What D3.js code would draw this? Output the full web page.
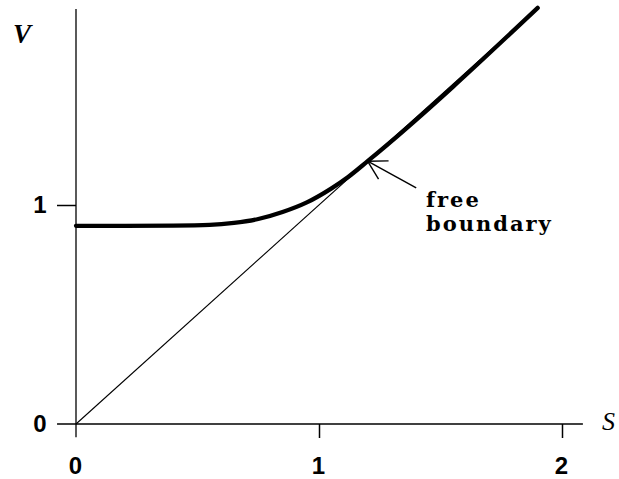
<!DOCTYPE html>
<html>
<head>
<meta charset="utf-8">
<script src="https://cdn.jsdelivr.net/npm/d3@7"></script>
<style>
  html, body { margin: 0; padding: 0; background: #fff; }
  svg { display: block; }
</style>
</head>
<body>
<svg id="chart" width="619" height="479"></svg>
<script>
// Option value V against asset price S
const xTicks = [0, 1, 2];
const yTicks = [0, 1];
const xTickLabels = ["0", "1", "2"];
const yTickLabels = ["0", "1"];

// payoff line V = S
const payoffS = [0, 1.9];
const payoffV = [0, 1.9];

// option value curve, meeting the payoff at the free boundary
const curveS = [0, 0.2, 0.4, 0.55, 0.65, 0.75, 0.85, 0.95, 1.05, 1.12, 1.2, 1.9];
const curveV = [0.905, 0.905, 0.906, 0.909, 0.918, 0.936, 0.968, 1.012, 1.075, 1.128, 1.2, 1.9];

// free boundary annotation: arrow tail and tip (data units)
const freeBoundaryS = 1.2;
const freeBoundaryV = 1.2;
const arrowTailS = 1.4;
const arrowTailV = 1.078;
const annotationLines = ["free", "boundary"];

const svg = d3.select("#chart");
const x = d3.scaleLinear().domain([0, 2]).range([76, 562]);
const y = d3.scaleLinear().domain([0, 1]).range([424, 205]);

// axis lines extend a little beyond the plotted range
svg.append("line")
  .attr("x1", x(-0.078)).attr("x2", x(2.086))
  .attr("y1", y(0)).attr("y2", y(0))
  .attr("stroke", "#000").attr("stroke-width", 1.6);
svg.append("line")
  .attr("x1", x(0)).attr("x2", x(0))
  .attr("y1", y(-0.06)).attr("y2", y(1.895))
  .attr("stroke", "#000").attr("stroke-width", 1.3);

// x axis ticks and labels
const xAxis = d3.axisBottom(x)
  .tickValues(xTicks)
  .tickSize(14)
  .tickPadding(19)
  .tickFormat((d, i) => xTickLabels[i]);
const gx = svg.append("g").attr("transform", `translate(0,${y(0)})`).call(xAxis);
gx.select(".domain").remove();
gx.selectAll(".tick line").attr("stroke", "#000").attr("stroke-width", 1.5)
  .attr("display", d => d === 0 ? "none" : null);
gx.selectAll(".tick text")
  .attr("fill", "#000")
  .attr("dx", "-1")
  .style("font-family", "'Liberation Sans', Arial, sans-serif")
  .style("font-weight", "bold")
  .style("font-size", "24px");

// y axis ticks and labels
const yAxis = d3.axisLeft(y)
  .tickValues(yTicks)
  .tickSize(19)
  .tickPadding(26)
  .tickFormat((d, i) => yTickLabels[i]);
const gy = svg.append("g").attr("transform", `translate(${x(0)},0)`).call(yAxis);
gy.select(".domain").remove();
gy.selectAll(".tick line").attr("stroke", "#000").attr("stroke-width", 1.5)
  .attr("display", d => d === 0 ? "none" : null);
gy.selectAll(".tick text")
  .attr("fill", "#000")
  .attr("text-anchor", "middle")
  .attr("dx", "9")
  .style("font-family", "'Liberation Sans', Arial, sans-serif")
  .style("font-weight", "bold")
  .style("font-size", "24px");

// axis titles
svg.append("text").attr("x", 13).attr("y", 43).text("V")
  .style("font-family", "'Liberation Serif', 'DejaVu Serif', serif")
  .style("font-style", "italic").style("font-weight", "bold")
  .style("font-size", "27px");
svg.append("text").attr("x", 602).attr("y", 430).text("S")
  .style("font-family", "'Liberation Serif', 'DejaVu Serif', serif")
  .style("font-style", "italic")
  .style("font-size", "26px");

// payoff line
const line = d3.line().x(d => x(d[0])).y(d => y(d[1]));
svg.append("path")
  .datum(payoffS.map((s, i) => [s, payoffV[i]]))
  .attr("d", line)
  .attr("fill", "none").attr("stroke", "#000").attr("stroke-width", 1.1);

// option value curve
svg.append("path")
  .datum(curveS.map((s, i) => [s, curveV[i]]))
  .attr("d", line.curve(d3.curveMonotoneX))
  .attr("fill", "none").attr("stroke", "#000")
  .attr("stroke-width", 4.3).attr("stroke-linecap", "round");

// annotation arrow with an open head
const tipX = x(freeBoundaryS), tipY = y(freeBoundaryV);
const tailX = x(arrowTailS), tailY = y(arrowTailV);
svg.append("line")
  .attr("x1", tailX).attr("y1", tailY).attr("x2", tipX).attr("y2", tipY)
  .attr("stroke", "#000").attr("stroke-width", 1.4);
const ang = Math.atan2(tailY - tipY, tailX - tipX);
const barbLen = 21, spread = 0.52;
[ang - spread, ang + spread].forEach(a => {
  svg.append("line")
    .attr("x1", tipX).attr("y1", tipY)
    .attr("x2", tipX + barbLen * Math.cos(a)).attr("y2", tipY + barbLen * Math.sin(a))
    .attr("stroke", "#000").attr("stroke-width", 1.4);
});

// annotation text
const ann = svg.append("text")
  .style("font-family", "'DejaVu Serif', serif")
  .style("font-weight", "bold")
  .style("font-size", "21px")
  .style("letter-spacing", "2px")
  .attr("fill", "#000");
annotationLines.forEach((t, i) => {
  ann.append("tspan").attr("x", 426).attr("y", 207 + i * 24).text(t);
});
</script>
</body>
</html>
